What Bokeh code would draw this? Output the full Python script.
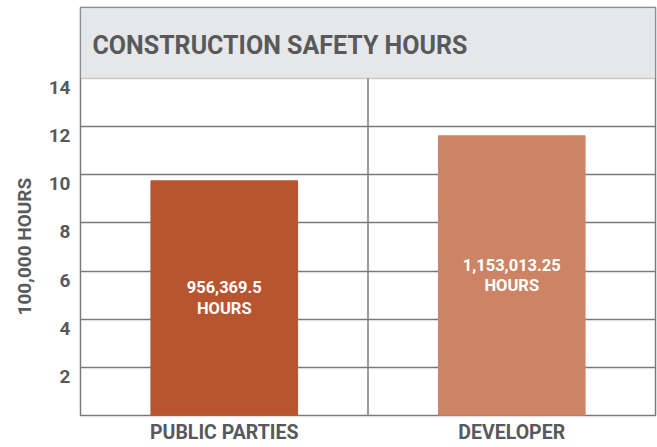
from bokeh.plotting import figure
from bokeh.models import (FactorRange, Range1d, LinearAxis, FixedTicker, Span,
                          BoxAnnotation, Label, ColumnDataSource)
from bokeh.embed import file_html
from bokeh.resources import INLINE
from bokeh.core.properties import value

# ---- data ----
categories = ["PUBLIC PARTIES", "DEVELOPER"]
hours_100k = [9.75, 11.62]
bar_labels = ["956,369.5\nHOURS", "1,153,013.25\nHOURS"]
bar_colors = ["#b85531", "#cd8465"]
y_ticks = [2, 4, 6, 8, 10, 12, 14]
title_text = "CONSTRUCTION SAFETY HOURS"
y_title = "100,000 HOURS"

FONT = "Roboto"
GRAY_TXT = "#58595b"
GRID = "#7a7a7a"

src = ColumnDataSource(dict(cat=categories, val=hours_100k,
                            mid=[v / 2 for v in hours_100k],
                            lab=bar_labels, color=bar_colors))

Y_END = 16.95
p = figure(x_range=FactorRange(*categories), y_range=Range1d(0, Y_END),
           width=657, height=447, output_backend="svg", toolbar_location=None,
           y_axis_location=None, title=y_title, title_location="left",
           min_border_left=80, min_border_right=2, min_border_top=7,
           min_border_bottom=32)
p.background_fill_color = "white"
p.border_fill_color = "white"
p.outline_line_color = GRID
p.outline_line_width = 1.5

# y title (figure title on the left), centred on the area below the title box
p.title.align = "left"
p.title.offset = 100
p.title.standoff = 20
p.title.text_font = FONT
p.title.text_font_style = "bold"
p.title.text_font_size = "19px"
p.title.text_color = GRAY_TXT

# grid
p.xgrid.visible = False
p.ygrid.ticker = FixedTicker(ticks=[t for t in y_ticks if t < 14])
p.ygrid.grid_line_color = GRID
p.ygrid.grid_line_width = 1.5
p.add_layout(Span(location=len(categories) / 2, dimension="height",
                  line_color=GRID, line_width=1.5))

# bars
p.vbar(x="cat", top="val", width=0.51, color="color", source=src)
p.text(x="cat", y="mid", text="lab", source=src, text_color="white",
       text_font=value(FONT), text_font_style="bold", text_font_size="16.5px",
       text_align="center", text_baseline="middle", text_line_height=1.08)

# title box
p.add_layout(BoxAnnotation(bottom=14, fill_color="#e6e7e8", fill_alpha=1,
                           line_color="#6d6e71", line_width=1.5))
p.add_layout(Label(x=0, y=15.37, x_offset=12, text=title_text,
                   text_font=FONT, text_font_style="bold",
                   text_font_size="25px", text_color=GRAY_TXT,
                   text_baseline="middle"))

# x axis
xa = p.xaxis[0]
xa.axis_line_color = None
xa.major_tick_line_color = None
xa.major_tick_out = 0
xa.major_tick_in = 0
xa.major_label_standoff = 5
xa.major_label_text_font = FONT
xa.major_label_text_font_style = "bold"
xa.major_label_text_font_size = "19.5px"
xa.major_label_text_color = GRAY_TXT

# y axis (labels sit slightly below the gridlines in the reference)
shift = 9 / (337 / 14)
p.extra_y_ranges = {"lab": Range1d(shift, Y_END + shift)}
ya = LinearAxis(y_range_name="lab", ticker=FixedTicker(ticks=y_ticks))
ya.axis_line_color = None
ya.major_tick_line_color = None
ya.minor_tick_line_color = None
ya.major_tick_out = 0
ya.major_tick_in = 0
ya.minor_tick_out = 0
ya.major_label_standoff = 10
ya.major_label_text_font = FONT
ya.major_label_text_font_style = "bold"
ya.major_label_text_font_size = "19px"
ya.major_label_text_color = GRAY_TXT
p.add_layout(ya, "left")

open("out.html", "w").write(file_html(p, INLINE))
